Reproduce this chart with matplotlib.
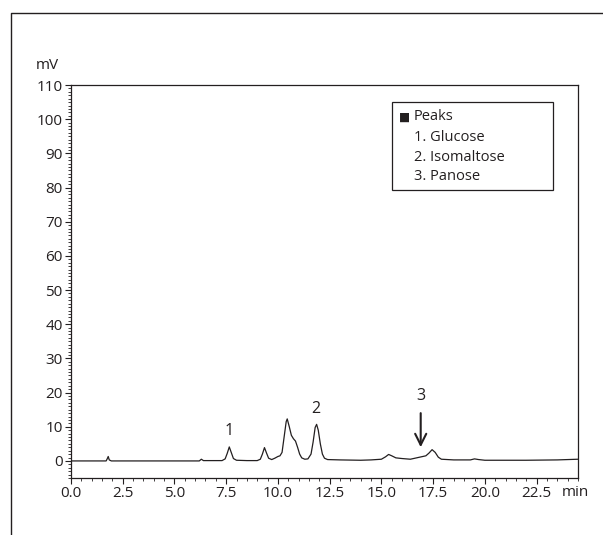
import matplotlib
matplotlib.use("Agg")
import matplotlib.pyplot as plt
from matplotlib.lines import Line2D
from matplotlib.patches import Rectangle
from matplotlib.ticker import MultipleLocator

# -------------------------------
# DATA
# -------------------------------
time_min = [0.0, 1.0, 1.7, 1.75, 1.8, 1.85, 1.95, 3.0, 5.0, 6.2, 6.3, 6.4, 7.0,
            7.3, 7.45, 7.55, 7.65, 7.75, 7.85, 8.0, 8.5, 9.0, 9.15, 9.25, 9.35,
            9.45, 9.55, 9.7, 9.85, 10.0, 10.1, 10.2, 10.3, 10.4, 10.45, 10.55,
            10.65, 10.75, 10.85, 10.95, 11.05, 11.15, 11.3, 11.45, 11.6, 11.7,
            11.8, 11.87, 11.95, 12.05, 12.15, 12.25, 12.4, 13.0, 14.0, 14.5,
            15.0, 15.2, 15.35, 15.5, 15.7, 16.0, 16.4, 16.7, 17.0, 17.15, 17.3,
            17.45, 17.6, 17.75, 17.9, 18.5, 19.3, 19.5, 19.7, 20.0, 22.0, 23.5,
            24.5]
signal_mv = [0.0, 0.0, 0.0, 0.6, 1.3, 0.3, 0.0, 0.0, 0.0, 0.0, 0.5, 0.1, 0.1,
             0.1, 0.6, 2.2, 4.1, 2.4, 0.7, 0.2, 0.1, 0.1, 0.5, 2.0, 3.9,
             2.3, 0.8, 0.4, 0.8, 1.3, 1.5, 2.5, 7.0, 11.5, 12.3, 10.0,
             7.5, 6.5, 5.8, 4.0, 2.0, 0.9, 0.5, 0.6, 2.0, 5.5,
             9.8, 10.7, 9.0, 5.0, 2.0, 0.8, 0.4, 0.3, 0.2, 0.3,
             0.5, 1.2, 1.9, 1.5, 0.9, 0.7, 0.5, 0.9, 1.3, 1.5, 2.3,
             3.3, 2.5, 1.1, 0.5, 0.3, 0.3, 0.6, 0.4, 0.2, 0.2, 0.3,
             0.5]

peak_labels = ["1", "2", "3"]
peak_label_x = [7.65, 11.85, 16.9]
peak_label_y = [8.8, 15.3, 19.0]

legend_lines = ["1. Glucose", "2. Isomaltose", "3. Panose"]

ink = "#231f20"
plt.rcParams["font.family"] = ["Open Sans", "DejaVu Sans"]
plt.rcParams["text.color"] = ink

fig = plt.figure(figsize=(6.03, 5.35), dpi=100)
ax = fig.add_axes([0.1177, 0.1065, 0.8408, 0.7346])

# -------------------------------
# TRACE
# -------------------------------
ax.plot(time_min, signal_mv, color=ink, lw=0.9)

ax.set_xlim(0, 24.5)
ax.set_ylim(-5, 110)
ax.xaxis.set_minor_locator(MultipleLocator(0.5))
ax.yaxis.set_minor_locator(MultipleLocator(1))
ax.set_xticks([i * 2.5 for i in range(10)])
ax.set_xticklabels(["%.1f" % (i * 2.5) for i in range(10)])
ax.set_yticks(range(0, 111, 10))

ax.tick_params(which="major", direction="out", length=4, width=0.8,
               colors=ink, labelsize=11, pad=2)
ax.tick_params(which="minor", direction="out", length=2, width=0.6, colors=ink)
for s in ax.spines.values():
    s.set_color(ink)
    s.set_linewidth(0.9)

ax.text(-0.047, 1.03, "mV", transform=ax.transAxes, fontsize=11,
        ha="center", va="bottom")
ax.text(0.994, -0.036, "min", transform=ax.transAxes, fontsize=11,
        ha="center", va="center")

# -------------------------------
# PEAK LABELS + ARROW
# -------------------------------
for lab, px, py in zip(peak_labels, peak_label_x, peak_label_y):
    ax.text(px, py, lab, fontsize=11.5, ha="center", va="center")

ax.annotate("", xy=(16.9, 3.2), xytext=(16.9, 14.8),
            arrowprops=dict(arrowstyle="->", color=ink, lw=1.5,
                            mutation_scale=20))

# -------------------------------
# LEGEND BOX
# -------------------------------
ax.add_patch(Rectangle((0.633, 0.733), 0.318, 0.224, transform=ax.transAxes,
                       fill=False, edgecolor=ink, lw=0.9))
ax.text(0.647, 0.919, "■", transform=ax.transAxes, fontsize=8.5,
        va="center", family=["DejaVu Sans"])
ax.text(0.675, 0.919, "Peaks", transform=ax.transAxes, fontsize=10.5,
        va="center")
for i, txt in enumerate(legend_lines):
    ax.text(0.677, 0.866 - i * 0.05, txt, transform=ax.transAxes,
            fontsize=10.5, va="center")

# -------------------------------
# OUTER FRAME
# -------------------------------
fig.add_artist(Line2D([0.018, 0.018, 1.0], [0.0, 0.976, 0.976],
                      transform=fig.transFigure, color=ink, lw=1.0))

fig.savefig("out.png", dpi=100)
